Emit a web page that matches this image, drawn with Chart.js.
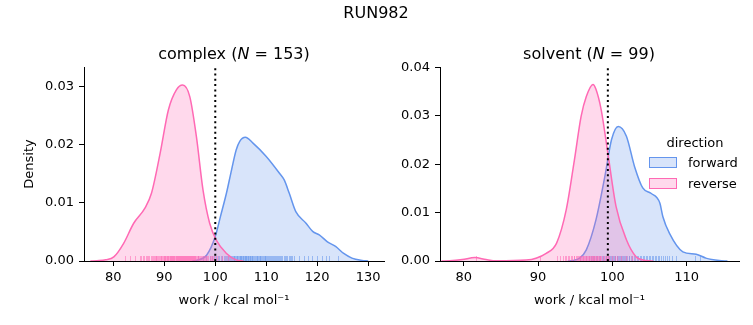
<!DOCTYPE html>
<html><head><meta charset="utf-8">
<script src="https://cdn.jsdelivr.net/npm/chart.js@4/dist/chart.umd.min.js"></script>
<style>
body{margin:0;background:#fff;}
#wrap{position:relative;width:753px;height:325px;overflow:hidden;font-family:"DejaVu Sans",sans-serif;color:#000;background:#fff;}
canvas{position:absolute;top:0;}
.t{position:absolute;transform:translate(-50%,-50%);white-space:nowrap;line-height:1;}
.l{position:absolute;transform:translateY(-50%);white-space:nowrap;line-height:1;font-size:13px;}
.p{position:absolute;width:28px;height:11px;box-sizing:border-box;border:1px solid;}
</style></head><body>
<div id="wrap">
<canvas id="c1" width="400" height="325" style="left:0;width:400px;height:325px"></canvas>
<canvas id="c2" width="363" height="325" style="left:390px;width:363px;height:325px"></canvas>
<div class="t" style="left:376px;top:13px;font-size:16px">RUN982</div>
<div class="t" style="left:234px;top:54px;font-size:16px">complex (<i>N</i> = 153)</div>
<div class="t" style="left:589px;top:54px;font-size:16px">solvent (<i>N</i> = 99)</div>
<div class="t" style="left:695px;top:142px;font-size:13px">direction</div>
<div class="p" style="left:649px;top:157px;border-color:#6495ED;background:rgba(100,149,237,0.25)"></div>
<div class="l" style="left:688px;top:162px">forward</div>
<div class="p" style="left:649px;top:178px;border-color:#FF69B4;background:rgba(255,105,180,0.25)"></div>
<div class="l" style="left:688px;top:183px">reverse</div>
</div>
<script>
// complex: KDE curves
const cxFwdX = [95.5, 96.3, 98.3, 100.0, 101.0, 102.2, 103.2, 104.1, 104.8, 105.9, 107.4, 110.0, 112.6, 113.5, 114.5, 115.8, 117.8, 119.1, 120.4, 122.0, 123.6, 125.2, 126.8, 128.8, 130.0];
const cxFwdY = [0, 0.0001, 0.0010, 0.0042, 0.0076, 0.0117, 0.0157, 0.0191, 0.0206, 0.0213, 0.0203, 0.0180, 0.0151, 0.0140, 0.0117, 0.0085, 0.0065, 0.0051, 0.0045, 0.0033, 0.0025, 0.0013, 0.0005, 0.0001, 0];
const cxRevX = [75.5, 76.8, 78.5, 80.1, 82.0, 84.0, 86.2, 87.5, 89.2, 90.8, 92.4, 93.6, 95.0, 96.3, 97.6, 98.9, 100.2, 102.2, 104.1, 105.5];
const cxRevY = [0, 0.00005, 0.0002, 0.0007, 0.0030, 0.0065, 0.0091, 0.0117, 0.0186, 0.0260, 0.0295, 0.0303, 0.0283, 0.0214, 0.0122, 0.0065, 0.0036, 0.0013, 0.0002, 0];
// solvent: KDE curves
const svFwdX = [94.0, 94.7, 95.6, 96.5, 97.8, 99.0, 99.9, 100.8, 101.9, 103.0, 104.1, 105.2, 106.4, 106.8, 107.7, 109.5, 111.3, 112.6, 114.4, 115.5];
const svFwdY = [0, 0.0001, 0.0006, 0.0023, 0.0085, 0.0175, 0.0251, 0.0278, 0.0258, 0.0195, 0.0151, 0.0140, 0.0120, 0.0092, 0.0057, 0.0019, 0.0014, 0.0006, 0.0001, 0];
const svRevX = [77.0, 78.1, 79.8, 81.5, 83.0, 84.4, 88.4, 91.1, 92.5, 93.8, 94.9, 95.8, 96.5, 97.4, 97.8, 98.5, 99.4, 100.5, 101.9, 103.2, 104.6, 105.5];
const svRevY = [0, 0.00005, 0.0003, 0.0007, 0.0003, 0.00005, 0.0002, 0.0016, 0.0037, 0.0106, 0.0209, 0.0299, 0.0340, 0.0365, 0.0355, 0.0313, 0.0223, 0.0113, 0.0044, 0.0009, 0.0001, 0];
// rug samples
const cxRevRug = [82.3, 83.3, 84.3, 85.2, 85.5, 85.9, 86.1, 86.4, 86.6, 86.8, 87.0, 87.3, 87.5, 87.7, 87.9, 88.1, 88.3, 88.4, 88.6, 88.8, 89.0, 89.1, 89.3, 89.4, 89.6, 89.7, 89.9, 90.0, 90.1, 90.2, 90.4, 90.5, 90.6, 90.7, 90.8, 90.9, 91.1, 91.2, 91.3, 91.4, 91.5, 91.6, 91.7, 91.8, 91.9, 92.0, 92.1, 92.2, 92.3, 92.4, 92.5, 92.6, 92.7, 92.8, 92.9, 93.0, 93.1, 93.2, 93.3, 93.4, 93.5, 93.6, 93.7, 93.8, 93.9, 94.0, 94.1, 94.2, 94.3, 94.4, 94.5, 94.6, 94.7, 94.8, 94.9, 95.0, 95.1, 95.2, 95.3, 95.4, 95.5, 95.6, 95.7, 95.8, 95.9, 96.0, 96.1, 96.3, 96.4, 96.6, 96.7, 96.9, 97.0, 97.2, 97.3, 97.5, 97.7, 97.9, 98.1, 98.4, 98.6, 98.9, 99.1, 99.4, 99.6, 100.0, 100.4, 101.3, 102.5];
const cxFwdRug = [96.6, 97.6, 98.2, 98.9, 99.3, 99.8, 100.1, 100.5, 100.8, 101.1, 101.4, 101.7, 101.9, 102.1, 102.3, 102.5, 102.7, 102.9, 103.1, 103.3, 103.4, 103.6, 103.7, 103.9, 104.0, 104.2, 104.3, 104.5, 104.6, 104.8, 104.9, 105.0, 105.1, 105.3, 105.4, 105.5, 105.6, 105.8, 105.9, 106.0, 106.1, 106.3, 106.4, 106.5, 106.6, 106.8, 106.9, 107.0, 107.2, 107.3, 107.5, 107.6, 107.8, 107.9, 108.1, 108.2, 108.4, 108.5, 108.7, 108.8, 109.0, 109.2, 109.3, 109.5, 109.7, 109.8, 110.0, 110.2, 110.4, 110.5, 110.7, 110.9, 111.1, 111.3, 111.5, 111.7, 111.9, 112.1, 112.3, 112.5, 112.7, 112.9, 113.1, 113.4, 113.6, 113.9, 114.1, 114.4, 114.6, 114.9, 115.1, 115.5, 116.5, 117.5, 118.1, 118.9, 119.9, 120.9, 121.8, 122.4, 124.0];
const svRevRug = [81.6, 90.2, 92.6, 93.0, 93.3, 93.6, 93.8, 94.0, 94.2, 94.4, 94.6, 94.8, 94.9, 95.1, 95.2, 95.4, 95.5, 95.6, 95.7, 95.8, 95.9, 96.0, 96.1, 96.2, 96.3, 96.4, 96.5, 96.6, 96.7, 96.8, 96.9, 97.0, 97.1, 97.2, 97.3, 97.4, 97.5, 97.6, 97.7, 97.8, 97.9, 98.0, 98.1, 98.2, 98.3, 98.4, 98.5, 98.7, 98.8, 99.0, 99.1, 99.3, 99.4, 99.6, 99.9, 100.3, 100.7, 101.2, 101.8, 102.6];
const svFwdRug = [95.6, 96.4, 96.8, 97.1, 97.4, 97.6, 97.8, 98.0, 98.2, 98.4, 98.6, 98.8, 98.9, 99.1, 99.2, 99.4, 99.5, 99.7, 99.8, 99.9, 100.1, 100.2, 100.3, 100.4, 100.6, 100.7, 100.8, 100.9, 101.1, 101.2, 101.3, 101.4, 101.6, 101.7, 101.9, 102.0, 102.2, 102.3, 102.5, 102.7, 102.9, 103.1, 103.3, 103.5, 103.7, 103.9, 104.1, 104.3, 104.5, 104.7, 104.9, 105.1, 105.3, 105.5, 105.7, 105.9, 106.1, 106.3, 106.6, 106.8, 107.1, 107.4, 107.7, 108.0, 108.6, 111.1, 111.8];
// reference lines
const cxRef = 100.0;
const svRef = 99.4;

const BLUE = '#6495ED', PINK = '#FF69B4';
const BLUE_F = 'rgba(100,149,237,0.25)', PINK_F = 'rgba(255,105,180,0.25)';

const rugPlugin = {
  id: 'rug',
  afterDatasetDraw(chart, args, opts) {
    if (args.index !== 1) return;
    const xs = chart.scales.x, b = chart.chartArea.bottom, ctx = chart.ctx;
    ctx.save();
    ctx.lineWidth = 1;
    for (const s of opts.sets) {
      ctx.strokeStyle = s.color;
      for (const v of s.values) {
        const px = Math.round(xs.getPixelForValue(v)) + 0.5;
        ctx.beginPath(); ctx.moveTo(px, b); ctx.lineTo(px, b - 5); ctx.stroke();
      }
    }
    ctx.restore();
  }
};

function pts(xs, ys) { return xs.map((x, i) => ({x: x, y: ys[i]})); }
function onStep(step) {
  return s => { s.ticks = s.ticks.filter(t => Math.abs(t.value / step - Math.round(t.value / step)) < 1e-6); };
}
const tickFont = {family: 'DejaVu Sans', size: 13};

function makeChart(id, o) {
  return new Chart(document.getElementById(id), {
    type: 'line',
    data: {datasets: [
      {data: pts(o.rx, o.ry), parsing: false, borderColor: PINK, backgroundColor: PINK_F, fill: 'origin', borderWidth: 1.5, pointRadius: 0, cubicInterpolationMode: 'monotone', order: 1},
      {data: pts(o.fx, o.fy), parsing: false, borderColor: BLUE, backgroundColor: BLUE_F, fill: 'origin', borderWidth: 1.5, pointRadius: 0, cubicInterpolationMode: 'monotone', order: 2},
      {data: [{x: o.ref, y: 0}, {x: o.ref, y: o.ymax}], parsing: false, borderColor: '#000', borderWidth: 2, borderDash: [2, 3.3], pointRadius: 0, fill: false, order: 0}
    ]},
    options: {
      responsive: false, animation: false, devicePixelRatio: 1,
      layout: {padding: {left: 0, right: o.padR, top: 67, bottom: 0}},
      plugins: {legend: {display: false}, tooltip: {enabled: false}, rug: {sets: o.rug}},
      scales: {
        x: {type: 'linear', min: o.xmin, max: o.xmax,
          afterBuildTicks: onStep(10),
          afterFit: s => { s.height = 64; },
          ticks: {stepSize: 10, includeBounds: false, autoSkip: false, color: '#000', font: tickFont, padding: 4, maxRotation: 0, callback: v => String(Math.round(v))},
          grid: {drawOnChartArea: false, drawTicks: true, tickLength: 5, color: '#000'},
          border: {display: true, color: '#000', width: 1},
          title: {display: true, text: 'work / kcal mol⁻¹', color: '#000', font: tickFont, padding: {top: 0, bottom: 17}}
        },
        y: {type: 'linear', min: 0, max: o.ymax,
          afterBuildTicks: onStep(0.01),
          afterFit: s => { s.width = o.yw; },
          ticks: {stepSize: 0.01, includeBounds: false, autoSkip: false, color: '#000', font: tickFont, padding: 5, callback: v => v.toFixed(2)},
          grid: {drawOnChartArea: false, drawTicks: true, tickLength: 5, color: '#000'},
          border: {display: true, color: '#000', width: 1},
          title: {display: o.ytitle, text: 'Density', color: '#000', font: tickFont, padding: {top: 22, bottom: 0}}
        }
      }
    },
    plugins: [rugPlugin]
  });
}

makeChart('c1', {fx: cxFwdX, fy: cxFwdY, rx: cxRevX, ry: cxRevY, ref: cxRef, xmin: 74.25, xmax: 133.1, ymax: 0.0334, yw: 84, padR: 16, ytitle: true,
  rug: [{color: 'rgba(100,149,237,0.55)', values: cxFwdRug}, {color: 'rgba(255,105,180,0.55)', values: cxRevRug}]});
makeChart('c2', {fx: svFwdX, fy: svFwdY, rx: svRevX, ry: svRevY, ref: svRef, xmin: 76.8, xmax: 117.06, ymax: 0.0401, yw: 50, padR: 14, ytitle: false,
  rug: [{color: 'rgba(100,149,237,0.55)', values: svFwdRug}, {color: 'rgba(255,105,180,0.55)', values: svRevRug}]});
</script>
</body></html>
